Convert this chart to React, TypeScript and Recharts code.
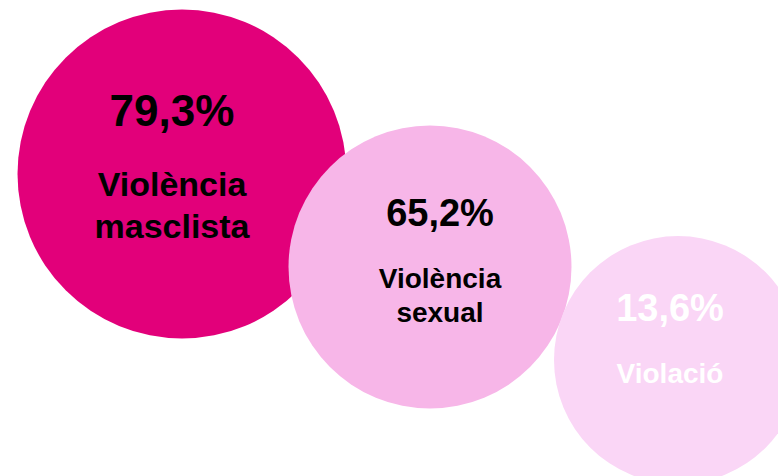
import { Scatter, ScatterChart, XAxis, YAxis } from "recharts";

const categories = ["Violència masclista", "Violència sexual", "Violació"];
const shares = [79.3, 65.2, 13.6];

const data = categories.map((name, i) => ({ name, share: shares[i] }));

// bubble styling, one entry per category
const bubbleRadius = [164.5, 141.5, 124];
const bubbleFill = ["#E2007A", "#F7B6E8", "#FAD6F6"];
const textFill = ["#000000", "#000000", "#FFFFFF"];
const valueFontSize = [44, 38, 38];
const labelFontSize = [34, 28, 28];
const valueDy = [-63.5, -54.5, -52.5];
const labelDy = [10, 11.3, 13.3];
const lineGap = [41.5, 34, 34];
const textDx = [-10, 10, -8];

const FONT = "'Liberation Sans', Arial, sans-serif";

function formatShare(value: number) {
  return `${value.toFixed(1).replace(".", ",")}%`;
}

function Bubble(props: any) {
  const { cx, cy, payload } = props;
  const i = categories.indexOf(payload.name);
  const x = cx + textDx[i];
  const lines = String(payload.name).split(" ");

  return (
    <g>
      <circle cx={cx} cy={cy} r={bubbleRadius[i]} fill={bubbleFill[i]} />
      <text
        x={x}
        y={cy + valueDy[i]}
        textAnchor="middle"
        dominantBaseline="central"
        fontFamily={FONT}
        fontWeight="bold"
        fontSize={valueFontSize[i]}
        fill={textFill[i]}
      >
        {formatShare(payload.share)}
      </text>
      {lines.map((line, k) => (
        <text
          key={line}
          x={x}
          y={cy + labelDy[i] + k * lineGap[i]}
          textAnchor="middle"
          dominantBaseline="central"
          fontFamily={FONT}
          fontWeight="bold"
          fontSize={labelFontSize[i]}
          fill={textFill[i]}
        >
          {line}
        </text>
      ))}
    </g>
  );
}

export default function App() {
  return (
    <div style={{ width: 778, height: 476, overflow: "hidden", background: "#fff" }}>
      <style>{"body{margin:0}"}</style>
      <ScatterChart width={804} height={476} margin={{ top: 127.5, right: 2, bottom: 69.5, left: 58 }}>
        <XAxis type="category" dataKey="name" hide allowDuplicatedCategory={false} />
        <YAxis type="category" dataKey="name" hide reversed allowDuplicatedCategory={false} />
        <Scatter data={data} shape={Bubble} isAnimationActive={false} />
      </ScatterChart>
    </div>
  );
}
